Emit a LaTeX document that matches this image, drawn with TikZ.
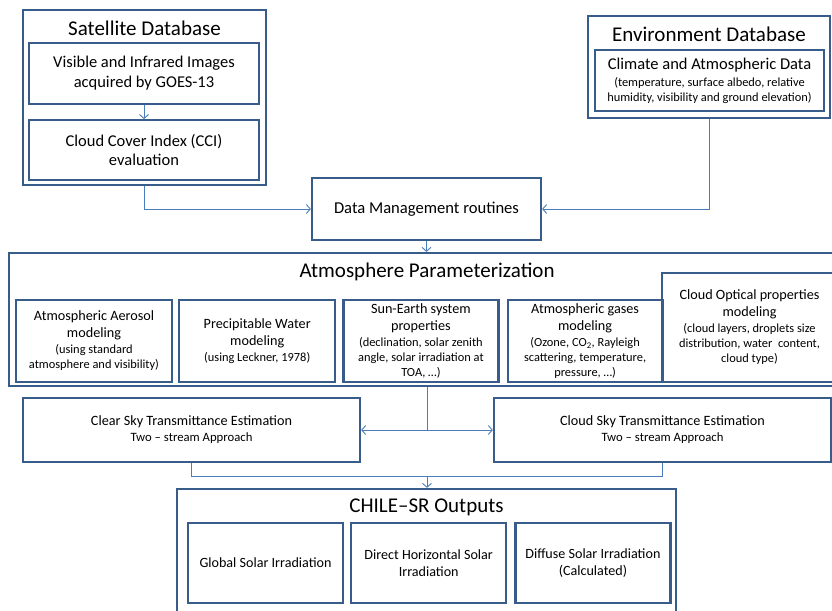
\documentclass[tikz,border=0pt]{standalone}
\usepackage{fontspec}
\setmainfont{Carlito}
\usepackage{tikz}
\usetikzlibrary{arrows.meta, positioning, calc}

\definecolor{framecol}{RGB}{56,93,138}
\definecolor{linkcol}{RGB}{74,126,187}
\newcommand{\smalltxt}{\fontsize{12.4}{14}\selectfont}

\begin{document}
\begin{tikzpicture}[
    x=1pt, y=-1pt,
    outer/.style={rectangle, draw=framecol, line width=2.2pt, fill=white, inner sep=0pt},
    inner/.style={rectangle, draw=framecol, line width=2.2pt, align=center, inner sep=0pt, font=\fontsize{14.2}{15}\selectfont},
    ttl/.style={font=\fontsize{21}{24}\selectfont, inner sep=0pt},
    arrow/.style={-{Straight Barb[length=4pt, width=9pt]}, linkcol, line width=0.9pt},
    link/.style={linkcol, line width=0.9pt}
]
\useasboundingbox[fill=white] (0,0) rectangle (832,610);
\clip (0,0) rectangle (832,610);

% ---- Satellite database ----
\node[outer, minimum width=243pt, minimum height=175pt] (sat) at (144.5,97.5) {};
\node[ttl] (satttl) at (144.5,28) {Satellite Database};
\node[inner, minimum width=230pt, minimum height=61pt, font=\fontsize{16.5}{20}\selectfont] (vis) at (144,73.5) {Visible and Infrared Images\\acquired by GOES-13};
\node[inner, minimum width=230pt, minimum height=60pt, font=\fontsize{16.5}{19}\selectfont, below=14pt of vis] (cci) {Cloud Cover Index (CCI)\\evaluation};

% ---- Environment database ----
\node[outer, minimum width=242pt, minimum height=102pt] (env) at (709,67) {};
\node[ttl] (envttl) at (709,34) {Environment Database};
\node[inner, minimum width=229pt, minimum height=61pt, font=\fontsize{16.5}{15}\selectfont] (clim) at (709.5,80.5) {Climate and Atmospheric Data\\[2pt]{\smalltxt (temperature, surface albedo, relative}\\{\smalltxt humidity, visibility and ground elevation)}};

% ---- Data management ----
\node[inner, minimum width=229pt, minimum height=62pt, font=\fontsize{16.6}{18}\selectfont] (dm) at (426.5,209) {Data Management routines};

% ---- Atmosphere parameterization ----
\node[outer, minimum width=836pt, minimum height=133pt] (atm) at (427,319.5) {};
\node[ttl] (atmttl) at (427,272) {Atmosphere Parameterization};

\node[inner, minimum width=156pt, minimum height=82pt] (aer) at (94,341) {Atmospheric Aerosol\\[2pt]modeling\\[1pt]{\smalltxt (using standard}\\{\smalltxt atmosphere and visibility)}};
\node[inner, minimum width=156pt, minimum height=82pt, right=5pt of aer] (pw) {Precipitable Water\\[2pt]modeling\\[1pt]{\smalltxt (using Leckner, 1978)}};
\node[inner, minimum width=155pt, minimum height=82pt, right=6pt of pw] (sun) {Sun-Earth system\\[2pt]properties\\[1pt]{\smalltxt (declination, solar zenith}\\{\smalltxt angle, solar irradiation at}\\{\smalltxt TOA, …)}};
\node[inner, minimum width=155pt, minimum height=82pt, right=7pt of sun] (gas) {Atmospheric gases\\[2pt]modeling\\[1pt]{\smalltxt (Ozone, CO\textsubscript{2}, Rayleigh}\\{\smalltxt scattering, temperature,}\\{\smalltxt pressure, …)}};
\node[inner, minimum width=175pt, minimum height=109pt] (copt) at (749.5,327.5) {Cloud Optical properties\\[2pt]modeling\\[1pt]{\smalltxt (cloud layers, droplets size}\\{\smalltxt distribution, water\ \ content,}\\{\smalltxt cloud type)}};

% ---- Transmittance estimation ----
\node[inner, minimum width=337pt, minimum height=64pt, font=\fontsize{14.2}{16}\selectfont] (clear) at (191.5,430) {Clear Sky Transmittance Estimation\\{\fontsize{12.7}{14}\selectfont Two – stream Approach}};
\node[inner, minimum width=337pt, minimum height=64pt, font=\fontsize{14.2}{16}\selectfont] (cloud) at (662.5,430) {Cloud Sky Transmittance Estimation\\{\fontsize{12.7}{14}\selectfont Two – stream Approach}};

% ---- Outputs ----
\node[outer, minimum width=499pt, minimum height=131pt] (chile) at (426.5,554.5) {};
\node[ttl] (chilettl) at (426.5,507) {CHILE–SR Outputs};
\node[inner, minimum width=155pt, minimum height=80pt, font=\fontsize{14.1}{17}\selectfont] (glob) at (265.5,563) {Global Solar Irradiation};
\node[inner, minimum width=155pt, minimum height=80pt, font=\fontsize{14.1}{17}\selectfont, right=6pt of glob] (dir) {Direct Horizontal Solar\\Irradiation};
\node[inner, minimum width=155pt, minimum height=80pt, font=\fontsize{14.1}{17}\selectfont, right=7pt of dir] (diff) {Diffuse Solar Irradiation\\(Calculated)};

% ---- Connecting arrows ----
\draw[arrow] (vis) -- (cci);
\draw[arrow] (sat.south) |- (dm.west);
\draw[arrow] (env.south) |- (dm.east);
\draw[arrow] (dm.south) -- (dm.south |- atm.north);
\draw[arrow] (atm.south) |- (clear.east);
\draw[arrow] (atm.south) |- (cloud.west);

% Merge into outputs
\coordinate (join) at (427,476);
\draw[link] (clear.south) |- (join);
\draw[link] (cloud.south) |- (join);
\draw[arrow] (join) -- (join |- chile.north);

\end{tikzpicture}
\end{document}
